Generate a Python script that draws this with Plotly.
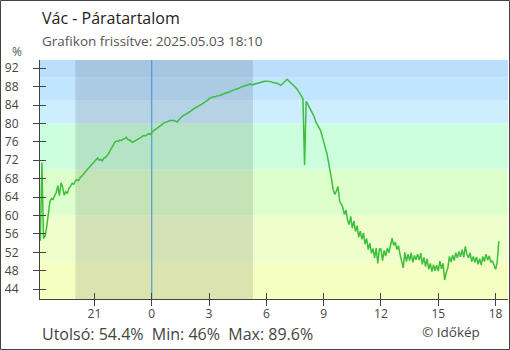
import plotly.graph_objects as go
import pandas as pd

# ---------------- data ----------------
title = "Vác - Páratartalom"
subtitle = "Grafikon frissítve: 2025.05.03 18:10"
unit_label = "%"
credit = "© Időkép"

start_time = "2025-05-02 18:10"
end_time = "2025-05-03 18:10"
step = "5min"

# relative humidity (%), 5-minute readings, one list per hour
h18a = [54.5, 71.5, 55.0, 55.5, 57.5, 60.5, 63.0, 63.7, 63.5, 64.3]
h19 = [65.0, 66.5, 64.3, 67.1, 66.2, 64.4, 65.2, 64.8, 65.9, 66.4, 67.0, 66.8]
h20 = [67.5, 67.8, 67.6, 68.2, 68.5, 68.9, 69.4, 69.8, 70.2, 70.7, 71.0, 71.4]
h21 = [71.8, 72.2, 72.5, 72.0, 72.2, 71.9, 72.5, 72.6, 73.0, 73.5, 74.2, 74.8]
h22 = [75.5, 76.0, 76.2, 76.1, 76.4, 76.3, 76.6, 76.7, 77.0, 76.5, 76.4, 76.2]
h23 = [75.9, 76.1, 76.3, 76.5, 76.6, 76.9, 77.2, 77.4, 77.3, 77.6, 77.8, 77.6]
h00 = [78.1, 78.4, 78.6, 78.9, 79.1, 79.4, 79.7, 79.9, 80.2, 80.3, 80.4, 80.6]
h01 = [80.7, 80.6, 80.7, 80.5, 80.3, 80.8, 81.2, 81.5, 81.8, 81.9, 82.1, 82.3]
h02 = [82.6, 82.8, 83.1, 83.3, 83.5, 83.7, 83.9, 84.0, 84.3, 84.6, 84.8, 85.0]
h03 = [85.4, 85.6, 85.7, 85.8, 85.8, 86.0, 86.0, 86.1, 86.3, 86.4, 86.6, 86.7]
h04 = [86.8, 86.9, 87.1, 87.2, 87.3, 87.4, 87.5, 87.7, 87.9, 88.0, 88.1, 88.3]
h05 = [88.4, 88.5, 88.6, 88.4, 88.5, 88.6, 88.7, 88.9, 89.0, 89.1, 89.2, 89.2]
h06 = [89.2, 89.2, 89.1, 89.1, 88.9, 88.9, 88.8, 88.7, 88.4, 88.3, 88.6, 88.9]
h07 = [89.1, 89.6, 89.3, 89.0, 88.7, 88.4, 88.0, 87.6, 87.1, 86.5, 86.0, 85.4]
h08 = [71.0, 84.8, 84.2, 83.5, 83.0, 82.4, 81.5, 80.4, 79.7, 79.0, 78.5, 77.3]
h09 = [76.2, 74.8, 73.5, 71.7, 70.0, 67.8, 65.6, 64.6, 65.3, 66.3, 63.2, 62.4]
h10 = [61.8, 60.2, 61.2, 59.0, 58.0, 59.8, 57.2, 58.8, 56.5, 57.8, 55.3, 56.6]
h11 = [54.8, 56.2, 53.8, 55.0, 52.6, 54.0, 51.8, 52.8, 50.8, 52.9, 49.6, 52.7]
h12 = [52.7, 50.2, 52.4, 51.2, 52.9, 51.9, 53.8, 55.1, 53.5, 54.2, 52.6, 53.4]
h13 = [51.5, 50.0, 48.6, 52.0, 50.0, 51.6, 50.2, 51.9, 49.8, 51.3, 50.4, 51.6]
h14 = [50.3, 51.8, 49.4, 50.9, 48.9, 50.6, 48.3, 49.6, 47.8, 49.3, 48.0, 49.2]
h15 = [47.9, 50.1, 48.4, 49.6, 46.0, 47.6, 48.6, 51.1, 49.9, 51.4, 50.2, 51.9]
h16 = [50.8, 52.2, 51.0, 52.6, 50.9, 53.3, 51.5, 50.8, 51.9, 50.0, 51.1, 49.8]
h17 = [51.0, 49.4, 50.6, 49.2, 51.1, 50.0, 51.6, 50.3, 51.2, 49.9, 50.1, 49.3]
h18b = [48.3, 49.8, 54.4]

humidity = (h18a + h19 + h20 + h21 + h22 + h23 + h00 + h01 + h02 + h03 + h04
            + h05 + h06 + h07 + h08 + h09 + h10 + h11 + h12 + h13 + h14
            + h15 + h16 + h17 + h18b)
times = pd.date_range(start_time, end_time, freq=step)
assert len(times) == len(humidity)

x_range = ["2025-05-02 18:09", "2025-05-03 18:39"]
x_tick_times = ["2025-05-02 21:00", "2025-05-03 00:00", "2025-05-03 03:00",
                "2025-05-03 06:00", "2025-05-03 09:00", "2025-05-03 12:00",
                "2025-05-03 15:00", "2025-05-03 18:00"]
x_tick_text = ["21", "0", "3", "6", "9", "12", "15", "18"]
y_range = [41.85, 93.8]
y_ticks = [44, 48, 52, 56, 60, 64, 68, 72, 76, 80, 84, 88, 92]

band_edges = [0, 50, 60, 70, 80, 85, 90, 100]
band_colors = ["#F6FFC2", "#EEFFCC", "#DDFFCC", "#CCFFDD",
               "#CCEEFF", "#C0E5FE", "#BBDEFB"]
night_start = "2025-05-02 20:00"
night_end = "2025-05-03 05:18"
midnight = "2025-05-03 00:00"

# ---------------- layout helpers ----------------
W, H = 510, 350
ML, MR, MT, MB = 40, 2, 60, 51
PW, PH = W - ML - MR, H - MT - MB
FONT = "Open Sans"


def px(xp):
    return (xp - ML) / PW


def py(yp):
    return (H - MB - yp) / PH


fig = go.Figure()
fig.add_trace(go.Scatter(
    x=times, y=humidity, mode="lines", line=dict(color="#3DBE3D", width=1.5),
    hoverinfo="skip", showlegend=False))
# invisible trace to carry the inner-tick overlay axes
fig.add_trace(go.Scatter(
    x=[times[0]], y=[humidity[0]], xaxis="x2", yaxis="y2", mode="markers",
    marker=dict(opacity=0), hoverinfo="skip", showlegend=False))

shapes = []
for lo, hi, col in zip(band_edges[:-1], band_edges[1:], band_colors):
    shapes.append(dict(type="rect", xref="paper", yref="y", x0=0, x1=1, y0=lo, y1=hi,
                       fillcolor=col, line=dict(width=0), layer="below"))
shapes.append(dict(type="rect", xref="x", yref="paper", x0=night_start, x1=night_end,
                   y0=0, y1=1, fillcolor="rgba(0,0,20,0.11)", line=dict(width=0), layer="below"))
shapes.append(dict(type="line", xref="x", yref="paper", x0=midnight, x1=midnight,
                   y0=0, y1=1, line=dict(color="#3A8FD6", width=1), layer="below"))
# frame around the whole picture
shapes.append(dict(type="rect", xref="paper", yref="paper",
                   x0=px(0.5), x1=px(W - 0.5), y0=py(H - 0.5), y1=py(0.5),
                   line=dict(color="#444444", width=1), fillcolor="rgba(0,0,0,0)"))

last_v, min_v, max_v = humidity[-1], min(humidity), max(humidity)
nb = "\u00a0"
stats = f"Utolsó: {last_v:g}%{nb}{nb}Min: {min_v:g}%{nb}{nb}Max: {max_v:g}%"

annotations = [
    dict(text=title, x=px(40), y=py(18), xref="paper", yref="paper", xanchor="left",
         yanchor="middle", showarrow=False, font=dict(family=FONT, size=16, color="#222222")),
    dict(text=subtitle, x=px(40), y=py(41), xref="paper", yref="paper", xanchor="left",
         yanchor="middle", showarrow=False, font=dict(family=FONT, size=13.5, color="#555555")),
    dict(text=unit_label, x=px(17), y=py(52), xref="paper", yref="paper", xanchor="center",
         yanchor="middle", showarrow=False, font=dict(family=FONT, size=12, color="#555555")),
    dict(text=stats, x=px(40), y=py(334), xref="paper", yref="paper", xanchor="left",
         yanchor="middle", showarrow=False, font=dict(family=FONT, size=16, color="#444444")),
    dict(text=credit, x=px(482), y=py(332), xref="paper", yref="paper", xanchor="right",
         yanchor="middle", showarrow=False, font=dict(family=FONT, size=13.5, color="#444444")),
]

axis_common = dict(showgrid=False, zeroline=False, tickcolor="#444444", ticklen=6, tickwidth=1)

fig.update_layout(
    width=W, height=H,
    margin=dict(l=ML, r=MR, t=MT, b=MB, pad=0),
    paper_bgcolor="white", plot_bgcolor="white",
    font=dict(family=FONT, size=12, color="#444444"),
    shapes=shapes, annotations=annotations,
    xaxis=dict(type="date", range=x_range, tickvals=x_tick_times, ticktext=x_tick_text,
               ticks="outside", showline=True, linecolor="#444444", linewidth=1,
               tickfont=dict(family=FONT, size=12, color="#444444"), ticklabelstandoff=-2,
               fixedrange=True, **axis_common),
    yaxis=dict(range=y_range, tickvals=y_ticks, ticks="outside", showline=True,
               linecolor="#444444", linewidth=1,
               tickfont=dict(family=FONT, size=12, color="#444444"), ticklabelstandoff=12,
               fixedrange=True, **axis_common),
    xaxis2=dict(type="date", range=x_range, tickvals=x_tick_times, ticks="inside",
                showticklabels=False, overlaying="x", side="bottom", anchor="y2",
                showline=False, fixedrange=True, **axis_common),
    yaxis2=dict(range=y_range, tickvals=y_ticks, ticks="inside", showticklabels=False,
                overlaying="y", side="left", anchor="x2", showline=False,
                fixedrange=True, **axis_common),
)

fig.write_html("out.html", config={"displayModeBar": False})
